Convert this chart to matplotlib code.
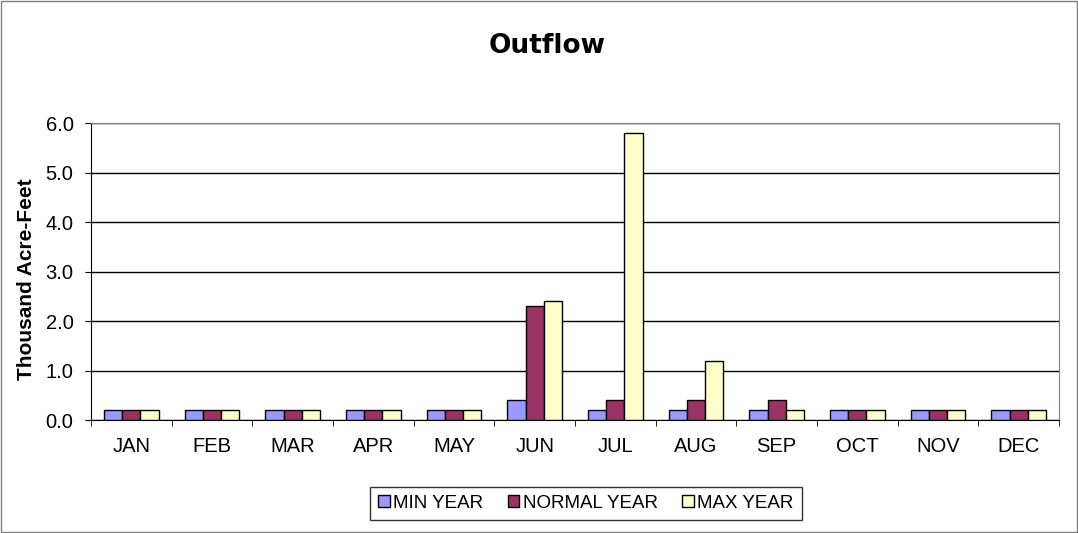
import numpy as np
import matplotlib.pyplot as plt

plt.rcParams['font.family'] = ['Liberation Sans', 'DejaVu Sans']

# Data
months = ['JAN', 'FEB', 'MAR', 'APR', 'MAY', 'JUN', 'JUL', 'AUG', 'SEP', 'OCT', 'NOV', 'DEC']
min_year = [0.2, 0.2, 0.2, 0.2, 0.2, 0.4, 0.2, 0.2, 0.2, 0.2, 0.2, 0.2]
normal_year = [0.2, 0.2, 0.2, 0.2, 0.2, 2.3, 0.4, 0.4, 0.4, 0.2, 0.2, 0.2]
max_year = [0.2, 0.2, 0.2, 0.2, 0.2, 2.4, 5.8, 1.2, 0.2, 0.2, 0.2, 0.2]

fig = plt.figure(figsize=(10.78, 5.33), dpi=100)
ax = fig.add_axes([0.0844, 0.212, 0.898, 0.557])

x = np.arange(len(months))
w = 0.225
ax.bar(x - w, min_year, w, color='#9999FF', edgecolor='black', linewidth=1, label='MIN YEAR', zorder=3)
ax.bar(x, normal_year, w, color='#993366', edgecolor='black', linewidth=1, label='NORMAL YEAR', zorder=3)
ax.bar(x + w, max_year, w, color='#FFFFCC', edgecolor='black', linewidth=1, label='MAX YEAR', zorder=3)

ax.set_xlim(-0.5, len(months) - 0.5)
ax.set_ylim(0, 6)
yt = np.arange(0, 6.01, 1.0)
ax.set_yticks(yt)
ax.set_yticklabels([f'{v:.1f}' for v in yt], fontsize=14.5)
ax.set_xticks(x)
ax.set_xticklabels(months, fontsize=14.5)
ax.tick_params(axis='x', length=0, pad=12)
ax.set_xticks(np.arange(-0.5, len(months)), minor=True)
ax.tick_params(axis='x', which='minor', length=4.5, direction='out', color='black')
ax.tick_params(axis='y', length=4.5, direction='out', color='black', pad=8)
ax.grid(axis='y', color='black', linewidth=1, zorder=0)

for side in ['top', 'right']:
    ax.spines[side].set_color('#808080')
for side in ['left', 'bottom']:
    ax.spines[side].set_color('black')

fig.text(27 / 1078, 0.4765, 'Thousand Acre-Feet', fontsize=15, fontweight='bold',
         rotation=90, ha='center', va='center')
fig.text(0.508, 0.914, 'Outflow', fontsize=19, fontweight='bold', ha='center', va='center',
         family='DejaVu Sans')

leg = fig.legend(loc='center', bbox_to_anchor=(0.5436, 0.0553), ncol=3, fontsize=13.5,
                 frameon=True, fancybox=False, edgecolor='black', handlelength=0.6,
                 handleheight=0.6, handletextpad=0.2, columnspacing=1.3, borderpad=0.45)
leg.get_frame().set_linewidth(1)

fig.patches.append(plt.Rectangle((0.001, 0.001), 0.998, 0.998, transform=fig.transFigure,
                                 fill=False, edgecolor='#808080', linewidth=1))

fig.savefig('out.png', dpi=100)
